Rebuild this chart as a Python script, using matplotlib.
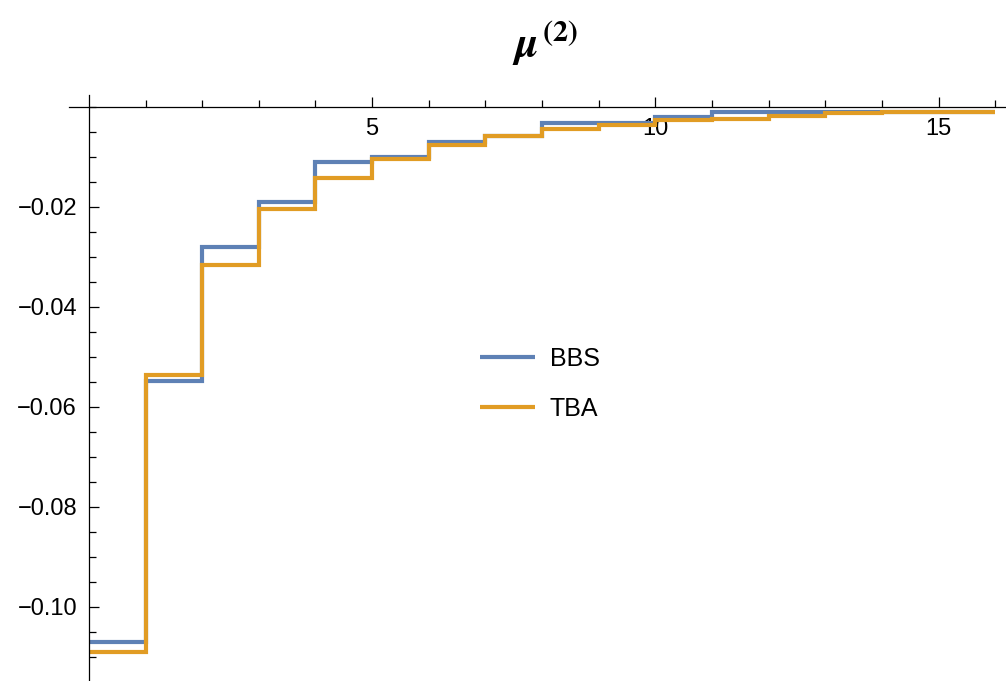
import matplotlib.pyplot as plt
import numpy as np

plt.rcParams['font.family'] = ['Liberation Sans', 'DejaVu Sans']

# step values on [n, n+1), n = 0..15
n = np.arange(17)
bbs = [-0.1071, -0.0549, -0.0280, -0.0191, -0.0111, -0.0101, -0.0071, -0.0059,
       -0.0032, -0.0032, -0.0020, -0.0011, -0.0011, -0.0011, -0.0011, -0.0010]
tba = [-0.1091, -0.0537, -0.0317, -0.0205, -0.0143, -0.0104, -0.0077, -0.0059,
       -0.0045, -0.0037, -0.0027, -0.0024, -0.0018, -0.0013, -0.0010, -0.0010]

x_major = [5, 10, 15]
x_minor = list(range(1, 17))
y_major = [-0.10, -0.08, -0.06, -0.04, -0.02]
y_minor = list(np.arange(-0.11, 0.0001, 0.005))

blue = '#5E81B5'
orange = '#E19C24'

fig = plt.figure(figsize=(10.06, 6.81), dpi=100)
ax = fig.add_axes([0.0686, 0.0004, 0.931, 0.8606])

ax.step(n, bbs + [bbs[-1]], where='post', color=blue, lw=3, label='BBS',
        solid_capstyle='butt', solid_joinstyle='miter')
ax.step(n, tba + [tba[-1]], where='post', color=orange, lw=3, label='TBA',
        solid_capstyle='butt', solid_joinstyle='miter')

ax.set_xlim(-0.35, 16.18)
ax.set_ylim(-0.1148, 0.0024)

for s in ['top', 'right']:
    ax.spines[s].set_visible(False)
ax.spines['left'].set_position(('data', 0))
ax.spines['bottom'].set_position(('data', 0))
for s in ['left', 'bottom']:
    ax.spines[s].set_linewidth(0.9)

ax.set_xticks(x_major)
ax.set_xticks(x_minor, minor=True)
ax.set_xticklabels([str(v) for v in x_major])
ax.set_yticks(y_major)
ax.set_yticks(y_minor, minor=True)
ax.set_yticklabels(['\u22120.10', '\u22120.08', '\u22120.06', '\u22120.04', '\u22120.02'])

ax.tick_params(axis='x', which='both', direction='in', pad=8, labelsize=17)
ax.tick_params(axis='x', which='major', length=7.5, width=0.9)
ax.tick_params(axis='x', which='minor', length=5, width=0.9)
ax.tick_params(axis='y', which='both', direction='in', pad=8.5, labelsize=17)
ax.tick_params(axis='y', which='major', length=7.5, width=0.9)
ax.tick_params(axis='y', which='minor', length=5, width=0.9)

ax.legend(loc='center left', bbox_to_anchor=(480 / 1006, 1 - 384 / 681),
          bbox_transform=fig.transFigure, frameon=False, fontsize=18,
          handlelength=2.2, handletextpad=0.6, labelspacing=1.05,
          borderpad=0, borderaxespad=0)

fig.text(545 / 1006, 1 - 43 / 681, r'$\boldsymbol{\mu}^{\,\mathbf{(2)}}$',
         ha='center', va='center', fontsize=31, math_fontfamily='stix')

fig.savefig('out.png', dpi=100)
